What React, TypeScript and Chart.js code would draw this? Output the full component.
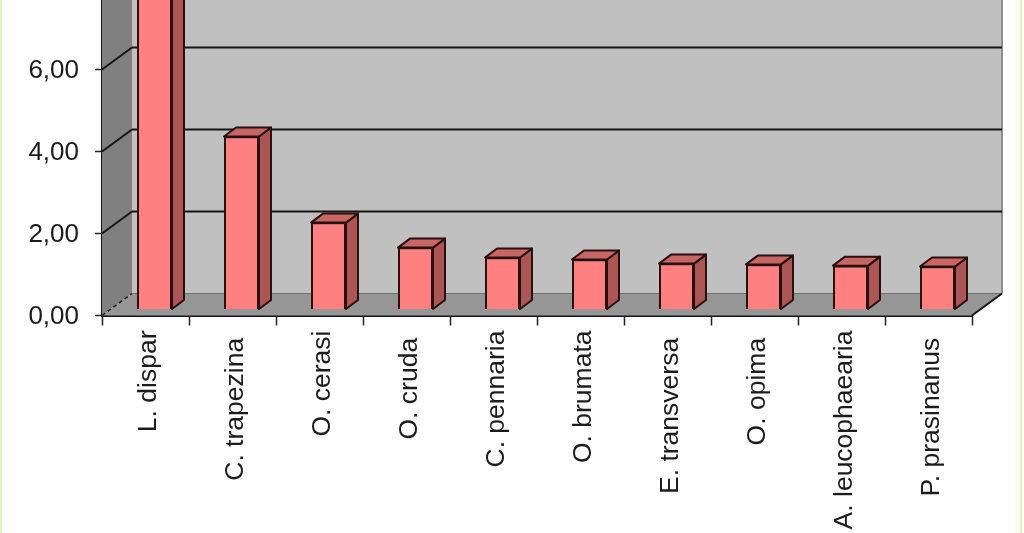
import React, { useEffect, useRef } from "react";
import { Chart, registerables } from "chart.js";

Chart.register(...registerables);

const categories = [
  "L. dispar",
  "C. trapezina ",
  "O. cerasi",
  "O. cruda ",
  "C. pennaria",
  "O. brumata",
  "E. transversa ",
  "O. opima ",
  "A. leucophaearia",
  "P. prasinanus ",
];
const values = [9.4, 4.22, 2.12, 1.51, 1.27, 1.22, 1.12, 1.1, 1.07, 1.05];
const axisMin = 0;
const axisMax = 10;
const axisStep = 2;

const SHIFT = 100;
const W = 1024;
const H = 533 + SHIFT;
const WALL_DX = 30;
const WALL_DY = -22;
const BAR_DX = 9;
const BAR_DY = -6;
const SIDE_DX = 12;
const SIDE_DY = -9;
const STROKE = "#2a0f0f";

const chart3d = {
  id: "chart3d",
  beforeDatasetsDraw(chart: any) {
    const { ctx, chartArea: a, scales } = chart;
    const y = scales.y;
    const poly = (pts: number[][], fill: string) => {
      ctx.beginPath();
      pts.forEach((p, i) => (i ? ctx.lineTo(p[0], p[1]) : ctx.moveTo(p[0], p[1])));
      ctx.closePath();
      ctx.fillStyle = fill;
      ctx.fill();
    };
    const line = (x0: number, y0: number, x1: number, y1: number, c: string, w: number, dash: number[] = []) => {
      ctx.beginPath();
      ctx.setLineDash(dash);
      ctx.moveTo(x0, y0);
      ctx.lineTo(x1, y1);
      ctx.strokeStyle = c;
      ctx.lineWidth = w;
      ctx.stroke();
      ctx.setLineDash([]);
    };
    const b = a.bottom;
    const t = a.top;
    ctx.save();
    poly([[a.left + WALL_DX, t + WALL_DY], [a.right + WALL_DX, t + WALL_DY], [a.right + WALL_DX, b + WALL_DY], [a.left + WALL_DX, b + WALL_DY]], "#c0c0c0");
    poly([[a.left, t], [a.left + WALL_DX, t + WALL_DY], [a.left + WALL_DX, b + WALL_DY], [a.left, b]], "#808080");
    poly([[a.left, b], [a.left + WALL_DX, b + WALL_DY], [a.right + WALL_DX, b + WALL_DY], [a.right, b]], "#969696");
    line(a.right + WALL_DX, t + WALL_DY, a.right + WALL_DX, b + WALL_DY, "#8c8c8c", 2);
    line(a.left + WALL_DX, b + WALL_DY, a.right + WALL_DX, b + WALL_DY, "#707070", 1);
    y.ticks.forEach((tk: any) => {
      const py = y.getPixelForValue(tk.value);
      if (tk.value === axisMin) {
        line(a.left, py, a.left + WALL_DX, py + WALL_DY, "#222", 1.5, [4, 3]);
      } else {
        line(a.left, py, a.left + WALL_DX, py + WALL_DY, "#151515", 2);
        line(a.left + WALL_DX, py + WALL_DY, a.right + WALL_DX, py + WALL_DY, "#151515", 2);
      }
    });
    line(a.right, b, a.right + WALL_DX, b + WALL_DY, "#151515", 2);
    ctx.restore();
  },
  beforeDatasetDraw(chart: any, args: any) {
    const { ctx } = chart;
    const meta = chart.getDatasetMeta(args.index);
    ctx.save();
    ctx.translate(BAR_DX, BAR_DY);
    meta.data.forEach((el: any) => {
      const p = el.getProps(["x", "y", "base", "width"], true);
      const l = p.x - p.width / 2;
      const r = p.x + p.width / 2;
      ctx.lineWidth = 2;
      ctx.strokeStyle = STROKE;
      ctx.lineJoin = "round";
      ctx.beginPath();
      ctx.moveTo(r, p.base);
      ctx.lineTo(r + SIDE_DX, p.base + SIDE_DY);
      ctx.lineTo(r + SIDE_DX, p.y + SIDE_DY);
      ctx.lineTo(r, p.y);
      ctx.closePath();
      ctx.fillStyle = "#ab5555";
      ctx.fill();
      ctx.stroke();
      ctx.beginPath();
      ctx.moveTo(l, p.y);
      ctx.lineTo(l + SIDE_DX, p.y + SIDE_DY);
      ctx.lineTo(r + SIDE_DX, p.y + SIDE_DY);
      ctx.lineTo(r, p.y);
      ctx.closePath();
      ctx.fillStyle = "#c86666";
      ctx.fill();
      ctx.stroke();
    });
  },
  afterDatasetDraw(chart: any) {
    chart.ctx.restore();
  },
};

const noPad = (s: any) => {
  s.paddingTop = 0;
  s.paddingBottom = 0;
  s.paddingLeft = 0;
  s.paddingRight = 0;
};

export default function App() {
  const ref = useRef<HTMLCanvasElement>(null);
  useEffect(() => {
    const chart = new Chart(ref.current as HTMLCanvasElement, {
      type: "bar",
      data: {
        labels: categories,
        datasets: [
          {
            data: values,
            backgroundColor: "#ff8080",
            borderColor: STROKE,
            borderWidth: 2,
            categoryPercentage: 1,
            barPercentage: 35 / 87,
            clip: false,
          } as any,
        ],
      },
      options: {
        animation: false,
        responsive: false,
        devicePixelRatio: 1,
        layout: { padding: { left: 0, right: 52, top: 5.5, bottom: 0 } },
        plugins: { legend: { display: false }, tooltip: { enabled: false } },
        scales: {
          x: {
            grid: { drawOnChartArea: false, tickLength: 10, tickColor: "#222", tickWidth: 1.5 },
            border: { color: "#151515", width: 2 },
            ticks: {
              autoSkip: false,
              minRotation: 90,
              maxRotation: 90,
              padding: 5,
              labelOffset: 3,
              color: "#1c1c1c",
              font: { family: "Liberation Sans", size: 26.5 },
            },
            afterFit(s: any) {
              s.height = H - 415.5;
              noPad(s);
            },
          },
          y: {
            min: axisMin,
            max: axisMax,
            grid: { drawOnChartArea: false, tickLength: 7, tickColor: "#222", tickWidth: 1.5 },
            border: { color: "#151515", width: 2 },
            ticks: {
              stepSize: axisStep,
              padding: 16,
              labelOffset: 1.5,
              color: "#1c1c1c",
              font: { family: "Liberation Sans", size: 26 },
              callback: (v: any) => Number(v).toFixed(2).replace(".", ","),
            },
            afterFit(s: any) {
              s.width = 102;
              noPad(s);
            },
          },
        },
      },
      plugins: [chart3d as any],
    });
    return () => chart.destroy();
  }, []);
  return (
    <div style={{ position: "fixed", left: 0, top: 0, width: 1024, height: 533, overflow: "hidden", background: "#fff" }}>
      <canvas ref={ref} width={W} height={H} style={{ position: "absolute", left: 0, top: -SHIFT, display: "block", width: W, height: H }} />
      <div style={{ position: "absolute", left: 0, top: 0, width: 2, height: 533, background: "#dcf5b8" }} />
      <div style={{ position: "absolute", left: 1020, top: 0, width: 2, height: 533, background: "#dcf5b8" }} />
    </div>
  );
}
